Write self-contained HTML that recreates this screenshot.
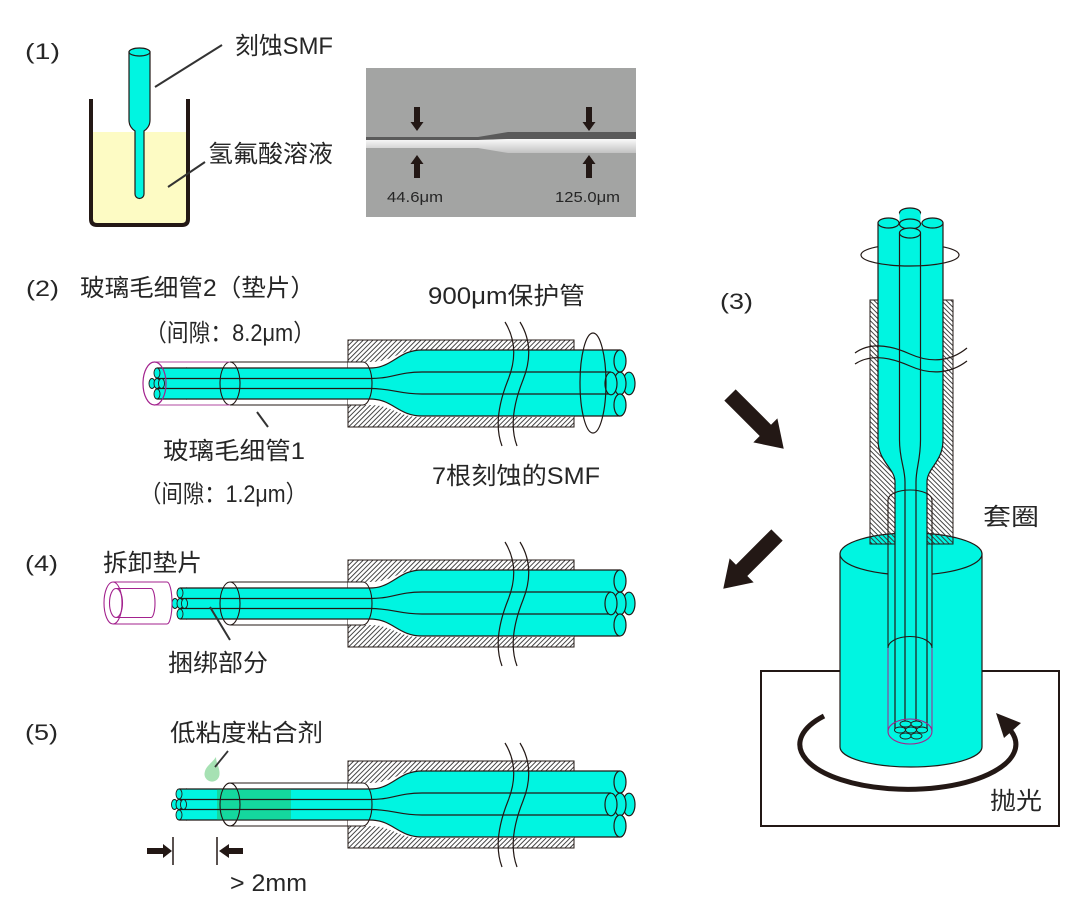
<!DOCTYPE html>
<html><head><meta charset="utf-8"><style>
html,body{margin:0;padding:0;background:#fff;}
svg{display:block;}
text{font-family:"Liberation Sans","Noto Sans CJK SC",sans-serif;fill:#262626;}
</style></head><body>
<svg xmlns="http://www.w3.org/2000/svg" width="1080" height="909" viewBox="0 0 1080 909">
<defs>
<pattern id="hA" width="3.4" height="3.4" patternUnits="userSpaceOnUse" patternTransform="rotate(45)"><rect width="3.4" height="3.4" fill="#fff"/><line x1="1" y1="0" x2="1" y2="3.4" stroke="#333" stroke-width="0.9"/></pattern>
<pattern id="hB" width="3.4" height="3.4" patternUnits="userSpaceOnUse" patternTransform="rotate(-45)"><line x1="1" y1="0" x2="1" y2="3.4" stroke="#333" stroke-width="0.9"/></pattern>
<linearGradient id="gl" x1="0" y1="0" x2="0" y2="1"><stop offset="0" stop-color="#fafafa"/><stop offset="1" stop-color="#c2c2c2"/></linearGradient>
<g id="asm">
  <rect x="348" y="340" width="226" height="87" fill="url(#hA)" stroke="#231815" stroke-width="1"/>
  <path d="M348,362 H370 C392,362 398,350 420,350 H574 V417 H420 C398,417 392,405 370,405 H348 Z" fill="#fff"/>
  <path d="M186,368 H370 C393,368 398,350 422,350 H620 V416 H422 C398,416 393,399 370,399 H186 Z" fill="#00f5e1"/>
  <path d="M186,368 H370 C393,368 398,350 422,350 H620 M186,399 H370 C393,399 398,416 422,416 H620 M186,378.5 H370 C393,378.5 398,372 422,372 H611 M186,388.5 H370 C393,388.5 398,394 422,394 H611" fill="none" stroke="#231815" stroke-width="1.2"/>
  <g fill="#00f5e1" stroke="#231815" stroke-width="1.2">
   <ellipse cx="629" cy="383.5" rx="6" ry="11.3"/>
   <ellipse cx="620" cy="383.5" rx="6" ry="11.3"/>
   <ellipse cx="611" cy="383.5" rx="6" ry="11.3"/>
   <ellipse cx="620" cy="361" rx="6" ry="11"/>
   <ellipse cx="620" cy="405" rx="6" ry="11"/>
  </g>
  <path d="M230,362 H363 M230,405 H363 M363,362 A9,21.5 0 0 1 363,405" fill="none" stroke="#231815" stroke-width="1.1"/>
  <ellipse cx="230" cy="383.5" rx="10" ry="21.5" fill="none" stroke="#231815" stroke-width="1.1"/>
  <path d="M505,322 C516,340 516,360 508,380 C500,400 494,425 502,446 M520,322 C531,340 531,360 523,380 C515,400 509,425 517,446" fill="none" stroke="#231815" stroke-width="1.2"/>
</g>
</defs>

<!-- ===== (1) ===== -->
<text x="25" y="59" font-size="22" textLength="35" lengthAdjust="spacingAndGlyphs">(1)</text>
<rect x="92" y="132" width="95" height="92" fill="#fdfbc4"/>
<path d="M129,52 V120 Q129,127 135,131 V194 A4.5,4.5 0 0 0 144,194 V131 Q150,127 150,120 V52 Z" fill="#00f5e1" stroke="#231815" stroke-width="1.2"/>
<ellipse cx="139.5" cy="52" rx="10.5" ry="4" fill="#00f5e1" stroke="#231815" stroke-width="1.2"/>
<path d="M91,99 V219 Q91,225 97,225 H182 Q188,225 188,219 V99" fill="none" stroke="#231815" stroke-width="4"/>
<line x1="155" y1="87" x2="222" y2="45" stroke="#333" stroke-width="2"/>
<line x1="168" y1="187" x2="205" y2="162" stroke="#333" stroke-width="2"/>
<text x="235" y="54" font-size="24" textLength="98" lengthAdjust="spacingAndGlyphs">刻蚀SMF</text>
<text x="208" y="162" font-size="24" textLength="125" lengthAdjust="spacingAndGlyphs">氢氟酸溶液</text>

<!-- photo -->
<rect x="366" y="68" width="270" height="149" fill="#a3a4a3"/>
<path d="M366,137 H478 L508,132 H636 V139 H508 L478,140 H366 Z" fill="#5a5a5a"/>
<path d="M366,140 H478 L508,139 H636 V153 H508 L478,148 H366 Z" fill="url(#gl)"/>
<g fill="#231815">
<polygon points="414,107 420,107 420,122 423.5,122 417,131 410.5,122 414,122"/>
<polygon points="417,155 423.5,164 420,164 420,178 414,178 414,164 410.5,164"/>
<polygon points="586,107 592,107 592,122 595.5,122 589,131 582.5,122 586,122"/>
<polygon points="589,155 595.5,164 592,164 592,178 586,178 586,164 582.5,164"/>
</g>
<text x="387" y="202" font-size="15" textLength="56" lengthAdjust="spacingAndGlyphs">44.6μm</text>
<text x="555" y="202" font-size="15" textLength="65" lengthAdjust="spacingAndGlyphs">125.0μm</text>

<!-- ===== (2) ===== -->
<text x="26" y="296" font-size="22" textLength="33" lengthAdjust="spacingAndGlyphs">(2)</text>
<text x="80" y="296" font-size="24" textLength="235" lengthAdjust="spacingAndGlyphs">玻璃毛细管2（垫片）</text>
<text x="145" y="341" font-size="24" textLength="170" lengthAdjust="spacingAndGlyphs">（间隙：8.2μm）</text>
<text x="428" y="304" font-size="24" textLength="157" lengthAdjust="spacingAndGlyphs">900μm保护管</text>
<use href="#asm"/>
<rect x="157" y="368" width="30" height="31" fill="#00f5e1"/>
<path d="M157,368 H187 M157,378.5 H187 M157,388.5 H187 M157,399 H187" fill="none" stroke="#231815" stroke-width="1.2"/>
<g fill="#00f5e1" stroke="#231815" stroke-width="0.9">
<ellipse cx="157" cy="373" rx="3" ry="5"/><ellipse cx="152" cy="383.5" rx="3" ry="5"/><ellipse cx="157" cy="383.5" rx="3" ry="5"/><ellipse cx="161.5" cy="383.5" rx="3" ry="5"/><ellipse cx="157" cy="394" rx="3" ry="5"/>
</g>
<path d="M154,362 H230 M154,405 H230" fill="none" stroke="#b04aa0" stroke-width="1"/>
<ellipse cx="154.5" cy="383.5" rx="11.5" ry="21.5" fill="none" stroke="#a3228e" stroke-width="1.2"/>
<ellipse cx="593" cy="383" rx="13" ry="50" fill="none" stroke="#231815" stroke-width="1.2"/>
<line x1="257" y1="412" x2="268" y2="427" stroke="#333" stroke-width="2"/>
<text x="163" y="459" font-size="24" textLength="142" lengthAdjust="spacingAndGlyphs">玻璃毛细管1</text>
<text x="140" y="502" font-size="24" textLength="167" lengthAdjust="spacingAndGlyphs">（间隙：1.2μm）</text>
<text x="432" y="484" font-size="24" textLength="168" lengthAdjust="spacingAndGlyphs">7根刻蚀的SMF</text>

<!-- ===== (4) ===== -->
<text x="25" y="571" font-size="22" textLength="33" lengthAdjust="spacingAndGlyphs">(4)</text>
<text x="103" y="571" font-size="24" textLength="99" lengthAdjust="spacingAndGlyphs">拆卸垫片</text>
<g transform="translate(0,220)">
<use href="#asm"/>
<rect x="180" y="368" width="7" height="31" fill="#00f5e1"/>
<path d="M180,368 H187 M180,378.5 H187 M180,388.5 H187 M180,399 H187" fill="none" stroke="#231815" stroke-width="1.2"/>
<g fill="#00f5e1" stroke="#231815" stroke-width="0.9">
<ellipse cx="180" cy="373" rx="3" ry="5"/><ellipse cx="175" cy="383.5" rx="3" ry="5"/><ellipse cx="180" cy="383.5" rx="3" ry="5"/><ellipse cx="184.5" cy="383.5" rx="3" ry="5"/><ellipse cx="180" cy="394" rx="3" ry="5"/>
</g>
</g>
<g fill="none" stroke="#a3228e" stroke-width="1.1">
<path d="M113,582 H167 M113,624 H167 M167,582 A5,21 0 0 1 167,624"/>
<ellipse cx="113" cy="603" rx="9" ry="21"/>
<ellipse cx="116" cy="603" rx="6.5" ry="14.5"/>
<path d="M116,588.5 H151 M116,617.5 H151 M151,588.5 A4,14.5 0 0 1 151,617.5"/>
</g>
<line x1="210" y1="607" x2="230" y2="640" stroke="#333" stroke-width="2"/>
<text x="168" y="671" font-size="24" textLength="100" lengthAdjust="spacingAndGlyphs">捆绑部分</text>

<!-- ===== (5) ===== -->
<text x="25" y="740" font-size="22" textLength="33" lengthAdjust="spacingAndGlyphs">(5)</text>
<text x="170" y="741" font-size="24" textLength="153" lengthAdjust="spacingAndGlyphs">低粘度粘合剂</text>
<g transform="translate(0,421)">
<use href="#asm"/>
<rect x="179" y="368" width="8" height="31" fill="#00f5e1"/>
<path d="M179,368 H187 M179,378.5 H187 M179,388.5 H187 M179,399 H187" fill="none" stroke="#231815" stroke-width="1.2"/>
<rect x="217" y="368.6" width="74" height="29.8" fill="#14d89e"/>
<path d="M217,378.5 H291 M217,388.5 H291" fill="none" stroke="#231815" stroke-width="1.2"/>
<ellipse cx="230" cy="383.5" rx="10" ry="21.5" fill="none" stroke="#231815" stroke-width="1.1"/>
<g fill="#00f5e1" stroke="#231815" stroke-width="0.9">
<ellipse cx="179" cy="373" rx="3" ry="5"/><ellipse cx="174.5" cy="383.5" rx="3" ry="5"/><ellipse cx="179" cy="383.5" rx="3" ry="5"/><ellipse cx="183.5" cy="383.5" rx="3" ry="5"/><ellipse cx="179" cy="394" rx="3" ry="5"/>
</g>
</g>
<path d="M216,757 C216,763 220,768 219.5,774 A7.5,7.5 0 1 1 204.8,772 C206,766 212,763 216,757 Z" fill="#a6e1b3"/>
<line x1="215" y1="767" x2="228" y2="751" stroke="#333" stroke-width="1.8"/>
<g fill="#231815">
<rect x="147" y="848" width="17" height="6"/>
<polygon points="163,844 172,851 163,858"/>
<polygon points="219,851 229,844 229,858"/>
<rect x="228" y="848" width="15" height="6"/>
</g>
<line x1="173" y1="837" x2="173" y2="865" stroke="#231815" stroke-width="1.5"/>
<line x1="217" y1="837" x2="217" y2="865" stroke="#231815" stroke-width="1.5"/>
<text x="230" y="891" font-size="24" textLength="77" lengthAdjust="spacingAndGlyphs">&gt; 2mm</text>

<!-- ===== (3) ===== -->
<text x="720" y="309" font-size="22" textLength="33" lengthAdjust="spacingAndGlyphs">(3)</text>
<g fill="#231815">
<polygon transform="translate(730,395) rotate(45)" points="0,-8 50,-8 50,-17 76,0 50,17 50,8 0,8"/>
<polygon transform="translate(777,535) rotate(135)" points="0,-8 50,-8 50,-17 76,0 50,17 50,8 0,8"/>
</g>

<rect x="761" y="671" width="298" height="155" fill="none" stroke="#231815" stroke-width="2"/>
<path d="M840,554 V747 A71,20 0 0 0 982,747 V554 Z" fill="#00f5e1" stroke="#231815" stroke-width="1.2"/>
<ellipse cx="911" cy="554" rx="71" ry="21" fill="#00f5e1" stroke="#231815" stroke-width="1.2"/>
<path d="M861,255 A49,11 0 0 1 959,255" fill="none" stroke="#231815" stroke-width="1.2"/>
<rect x="870" y="300" width="83" height="233" fill="#fff"/>
<rect x="870" y="300" width="83" height="244" fill="url(#hB)" stroke="#231815" stroke-width="1"/>
<rect x="888" y="545" width="44" height="186" fill="#00f5e1"/>
<ellipse cx="910" cy="213" rx="10.5" ry="5" fill="#00f5e1" stroke="#231815" stroke-width="1.2"/>
<rect x="899.5" y="213" width="21" height="20" fill="#00f5e1"/>
<path d="M878,223 V440 C878,462 895,468 895,482 V731 H927 V482 C927,468 943,462 943,440 V223 Z" fill="#00f5e1"/>
<path d="M878,223 V440 C878,462 895,468 895,482 V731 M943,223 V440 C943,462 927,468 927,482 V731 M899.5,233 V440 C899.5,460 905,468 905,482 V731 M920.5,233 V440 C920.5,460 916,468 916,482 V731" fill="none" stroke="#231815" stroke-width="1.2"/>
<g fill="#00f5e1" stroke="#231815" stroke-width="1.2">
<ellipse cx="888.5" cy="223" rx="10.5" ry="5"/>
<ellipse cx="932.5" cy="223" rx="10.5" ry="5"/>
<ellipse cx="910" cy="224" rx="10.5" ry="5"/>
<ellipse cx="910" cy="233" rx="10.5" ry="5"/>
</g>
<path d="M888,500 V648 M932,500 V648 M888,500 A22,10 0 0 1 932,500 M888,648 A22,11.5 0 0 1 932,648" fill="none" stroke="#231815" stroke-width="1.1"/>
<path d="M888,648 V731.5 M932,648 V731.5" fill="none" stroke="#a3228e" stroke-width="1"/>
<path d="M855,353 C870,342 890,345 910,354 C930,363 950,362 967,348 M855,364 C870,354 890,357 910,366 C930,375 950,374 967,361" fill="none" stroke="#231815" stroke-width="1.2"/>
<path d="M861,255 A49,11 0 0 0 959,255" fill="none" stroke="#231815" stroke-width="1.2"/>
<g fill="#00f5e1" stroke="#231815" stroke-width="0.9">
<ellipse cx="905.5" cy="724" rx="5.5" ry="3"/><ellipse cx="916.5" cy="724" rx="5.5" ry="3"/>
<ellipse cx="900" cy="730" rx="5.5" ry="3"/><ellipse cx="911" cy="730" rx="5.5" ry="3"/><ellipse cx="922" cy="730" rx="5.5" ry="3"/>
<ellipse cx="905.5" cy="736" rx="5.5" ry="3"/><ellipse cx="916.5" cy="736" rx="5.5" ry="3"/>
</g>
<ellipse cx="910" cy="731.5" rx="22" ry="12.5" fill="none" stroke="#a3228e" stroke-width="1.1"/>
<path d="M824,716 A108,45 0 1 0 1011,731" fill="none" stroke="#231815" stroke-width="5"/>
<polygon points="996,713 1021,723 1004,738" fill="#231815"/>
<text x="983" y="525" font-size="24" textLength="56" lengthAdjust="spacingAndGlyphs">套圈</text>
<text x="990" y="809" font-size="24" textLength="52" lengthAdjust="spacingAndGlyphs">抛光</text>
</svg>
</body></html>
